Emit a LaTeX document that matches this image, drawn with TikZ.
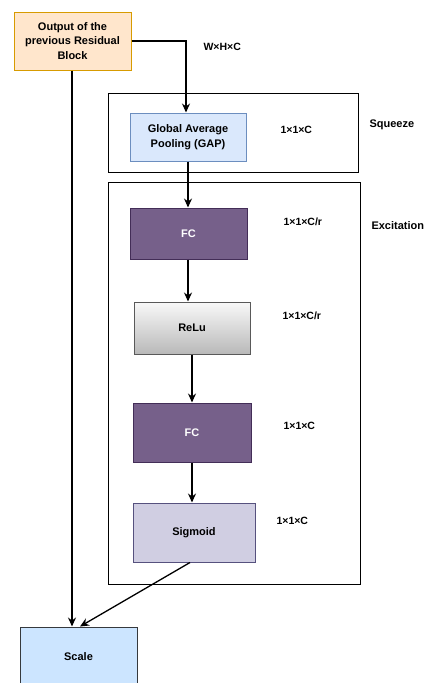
\documentclass[tikz,border=0pt]{standalone}
\usepackage{fontspec}
\setmainfont{Liberation Sans}
\usepackage{xcolor}
\usepackage{tikz}
\usetikzlibrary{arrows.meta, positioning, calc}

\definecolor{outfill}{HTML}{FFE6CC}
\definecolor{outdraw}{HTML}{D79B00}
\definecolor{gapfill}{HTML}{DAE8FC}
\definecolor{gapdraw}{HTML}{6C8EBF}
\definecolor{fcfill}{HTML}{76608A}
\definecolor{fcdraw}{HTML}{432D57}
\definecolor{sigfill}{HTML}{D0CEE2}
\definecolor{sigdraw}{HTML}{56517E}
\definecolor{scalefill}{HTML}{CCE5FF}
\definecolor{scaledraw}{HTML}{36393D}

\begin{document}
\begin{tikzpicture}[
  x=1pt, y=-1pt,
  font=\fontsize{11}{14.5}\selectfont\bfseries,
  blk/.style={draw, line width=1pt, align=center, inner sep=2pt},
  grp/.style={draw, line width=0.8pt},
  dim/.style={font=\fontsize{10.5}{12}\selectfont\bfseries, anchor=west},
  arr/.style={-{Stealth[length=9pt, width=8pt]}, line width=1.3pt}
]
\useasboundingbox (0,0) rectangle (432,683);
\fill[white] (0,0) rectangle (432,683);

% group frames
\draw[grp] (108,93) rectangle (358,172);
\draw[grp] (108,182) rectangle (360,584);
\node[anchor=west] (sq) at (366,125) {Squeeze};
\node[anchor=west] (ex) at (368,226) {Excitation};

% blocks
\node[blk, fill=outfill, draw=outdraw, minimum width=117pt, minimum height=58pt] (out) at (72.5,41) {Output of the\\previous Residual\\Block};
\node[blk, fill=gapfill, draw=gapdraw, minimum width=116pt, minimum height=48pt] (gap) at (188,137) {Global Average\\Pooling (GAP)};
\node[blk, fill=fcfill, draw=fcdraw, text=white, minimum width=117pt, minimum height=51pt] (fc1) at (188.5,233.5) {FC};
\node[blk, top color=gray!5, bottom color=gray!55, draw=gray!70!black, minimum width=116pt, minimum height=52pt] (relu) at (192,328) {ReLu};
\node[blk, fill=fcfill, draw=fcdraw, text=white, minimum width=118pt, minimum height=59pt] (fc2) at (192,432.5) {FC};
\node[blk, fill=sigfill, draw=sigdraw, minimum width=122pt, minimum height=59pt] (sig) at (194,532.5) {Sigmoid};
\node[blk, fill=scalefill, draw=scaledraw, minimum width=117pt, minimum height=60pt] (scale) at (78.5,657) {Scale};

% dimensions
\node[dim] (d0) at (200,47) {W×H×C};
\node[dim] (d1) at (277,130) {1×1×C};
\node[dim] (d2) at (280,222) {1×1×C/r};
\node[dim] (d3) at (279,316) {1×1×C/r};
\node[dim] (d4) at (280,426) {1×1×C};
\node[dim] (d5) at (273,521) {1×1×C};

% connectors
\draw[arr] (out.east) -| (gap.north -| 186,0);
\draw[arr] (out.south -| 72,0) -- (scale.north -| 72,0);
\draw[arr] (gap.south) -- (gap.south |- fc1.north);
\draw[arr] (fc1.south -| 188,0) -- (relu.north -| 188,0);
\draw[arr] (relu.south) -- (relu.south |- fc2.north);
\draw[arr] (fc2.south) -- (fc2.south |- sig.north);
\draw[arr] (sig.south -| 190,0) -- (scale.north -| 80,0);
\end{tikzpicture}
\end{document}
